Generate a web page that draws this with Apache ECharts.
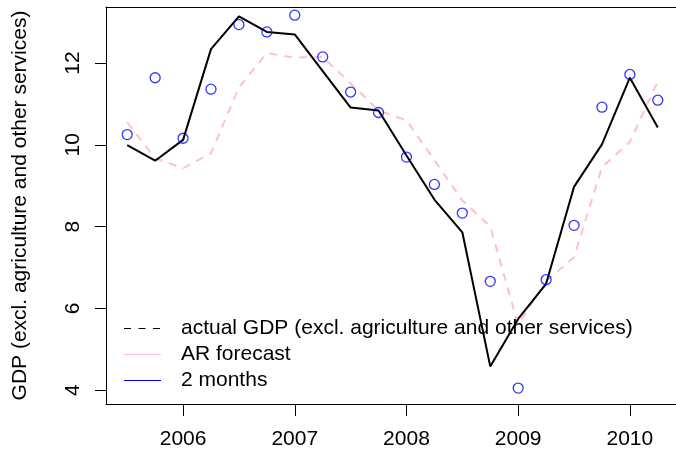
<!DOCTYPE html>
<html>
<head>
<meta charset="utf-8">
<script src="https://cdn.jsdelivr.net/npm/echarts@6/dist/echarts.min.js"></script>
<style>
  html, body { margin: 0; padding: 0; background: #fff; }
  #chart { width: 676px; height: 453px; }
</style>
</head>
<body>
<div id="chart"></div>
<script>
// Quarterly time stamps (decimal years)
const quarters = [2005.5, 2005.75, 2006.0, 2006.25, 2006.5, 2006.75, 2007.0, 2007.25,
                  2007.5, 2007.75, 2008.0, 2008.25, 2008.5, 2008.75, 2009.0, 2009.25,
                  2009.5, 2009.75, 2010.0, 2010.25];
// Actual GDP growth (circles)
const actualGDP = [10.25, 11.64, 10.16, 11.36, 12.94, 12.76, 13.17, 12.15, 11.29, 10.79,
                   9.70, 9.03, 8.33, 6.66, 4.05, 6.70, 8.03, 10.92, 11.72, 11.09];
// Nowcast with 2 months of data (solid black)
const twoMonths = [9.99, 9.61, 10.12, 12.34, 13.14, 12.76, 12.70, 11.80, 10.91, 10.84,
                   9.74, 8.66, 7.86, 4.58, 5.74, 6.60, 8.97, 10.01, 11.64, 10.42];
// AR model forecast (dashed pink)
const arForecast = [10.55, 9.67, 9.43, 9.79, 11.41, 12.24, 12.13, 12.15, 11.50, 10.84,
                    10.60, 9.62, 8.64, 8.00, 5.60, 6.66, 7.25, 9.45, 10.07, 11.55];
const xTicks = [2006, 2007, 2008, 2009, 2010];
const yTicks = [4, 6, 8, 10, 12];
const legendLabels = ['actual GDP (excl. agriculture and other services)', 'AR forecast', '2 months'];

const FONT = '"Liberation Sans", Arial, sans-serif';
const FS = 21;
const pairs = ys => quarters.map((q, i) => [q, ys[i]]);

const chart = echarts.init(document.getElementById('chart'), null, { renderer: 'canvas' });

const legendRows = [
  { y: 328, color: '#000000', dash: [7, 7.5], width: 1 },
  { y: 354, color: '#FFC0CB', dash: null, width: 1 },
  { y: 380, color: '#0000FF', dash: null, width: 1 }
];
const legendGraphics = [];
legendRows.forEach((r, i) => {
  legendGraphics.push({
    type: 'line', z: 10,
    shape: { x1: 124, y1: r.y + 0.5, x2: 161, y2: r.y + 0.5 },
    style: { stroke: r.color, lineWidth: r.width, lineDash: r.dash }
  });
  legendGraphics.push({
    type: 'text', z: 10, x: 181, y: r.y,
    style: { text: legendLabels[i], fill: '#000', font: FS + 'px ' + FONT, textVerticalAlign: 'middle' }
  });
});

const frameLine = { show: true, lineStyle: { color: '#000', width: 1 } };

chart.setOption({
  animation: false,
  backgroundColor: '#fff',
  textStyle: { fontFamily: FONT, color: '#000' },
  grid: { left: 106, top: 7, right: 0, height: 397 },
  xAxis: [
    {
      type: 'value', min: 2005.31, max: 2010.413, position: 'bottom',
      splitLine: { show: false },
      axisLine: frameLine,
      axisTick: { show: true, customValues: xTicks, length: 12, inside: false, lineStyle: { color: '#000', width: 1 } },
      axisLabel: { customValues: xTicks, margin: 25, fontSize: FS, color: '#000', fontFamily: FONT, formatter: v => String(v) }
    },
    {
      type: 'value', min: 2005.31, max: 2010.413, position: 'top',
      splitLine: { show: false },
      axisLine: frameLine,
      axisTick: { show: false },
      axisLabel: { show: false }
    }
  ],
  yAxis: {
    type: 'value', min: 3.66, max: 13.37,
    name: 'GDP (excl. agriculture and other services)',
    nameLocation: 'middle', nameGap: 75, nameRotate: 90,
    nameTextStyle: { fontSize: FS, color: '#000', fontFamily: FONT },
    splitLine: { show: false },
    axisLine: frameLine,
    axisTick: { show: true, customValues: yTicks, length: 11, lineStyle: { color: '#000', width: 1 } },
    axisLabel: { customValues: yTicks, rotate: 90, margin: 22, fontSize: FS, color: '#000', fontFamily: FONT, formatter: v => String(v) }
  },
  graphic: legendGraphics,
  series: [
    {
      name: 'AR forecast', type: 'line', data: pairs(arForecast),
      showSymbol: false, symbol: 'none',
      lineStyle: { color: '#FFC0CB', width: 2, type: [8, 7] }, z: 2
    },
    {
      name: '2 months', type: 'line', data: pairs(twoMonths),
      showSymbol: false, symbol: 'none',
      lineStyle: { color: '#000000', width: 2 }, z: 3
    },
    {
      name: 'actual GDP', type: 'scatter', data: pairs(actualGDP),
      symbol: 'circle', symbolSize: 10,
      itemStyle: { color: 'transparent', borderColor: '#0000FF', borderWidth: 1.3 }, z: 4
    }
  ]
});
</script>
</body>
</html>
